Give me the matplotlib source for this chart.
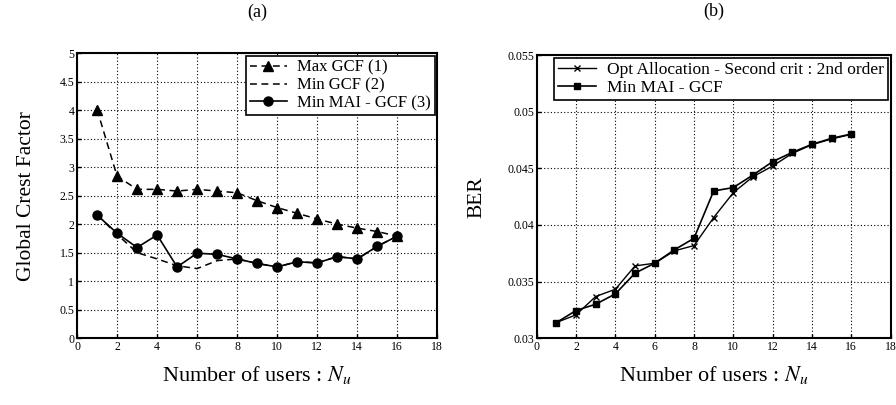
import numpy as np
import matplotlib.pyplot as plt

plt.rcParams['font.family'] = ['Liberation Serif', 'DejaVu Serif']
plt.rcParams['mathtext.fontset'] = 'stix'

nu = list(range(1, 17))

max_gcf = [4.01, 2.84, 2.61, 2.61, 2.58, 2.61, 2.58, 2.55, 2.41, 2.29, 2.19, 2.09, 2.00, 1.93, 1.87, 1.79]
min_gcf = [2.16, 1.82, 1.50, 1.39, 1.27, 1.22, 1.36, 1.39, 1.31, 1.25, 1.34, 1.32, 1.43, 1.39, 1.61, 1.79]
min_mai = [2.16, 1.84, 1.59, 1.81, 1.25, 1.49, 1.47, 1.39, 1.31, 1.25, 1.34, 1.32, 1.43, 1.39, 1.61, 1.79]

ber_opt = [0.03138, 0.03206, 0.03368, 0.03432, 0.03638, 0.03662, 0.03771, 0.03818,
           0.04065, 0.04285, 0.04426, 0.04520, 0.04632, 0.04709, 0.04759, 0.04800]
ber_mai = [0.03138, 0.03244, 0.03300, 0.03391, 0.03574, 0.03662, 0.03780, 0.03882,
           0.04300, 0.04330, 0.04441, 0.04559, 0.04641, 0.04712, 0.04765, 0.04803]

fig = plt.figure(figsize=(8.96, 4.05), dpi=100)
ax1 = fig.add_axes([0.086, 0.165, 0.402, 0.704])
ax2 = fig.add_axes([0.599, 0.165, 0.395, 0.699])

for ax in (ax1, ax2):
    ax.set_xlim(0, 18)
    ax.set_xticks(range(0, 19, 2))
    ax.grid(True, color='k', linestyle=(0, (1, 2)), linewidth=0.8)
    ax.tick_params(direction='in', labelsize=8.5, length=3, width=1, pad=2)
    for s in ax.spines.values():
        s.set_linewidth(1.5)
    ax.set_xlabel('Number of users : $N_u$', fontsize=16, labelpad=8)

dash = (0, (4.5, 3))

# (a)
ax1.plot(nu, max_gcf, color='k', linestyle=dash, marker='^', markersize=6.5,
         linewidth=1.1, label='Max GCF (1)')
ax1.plot(nu, min_gcf, color='k', linestyle=dash, linewidth=1.1, label='Min GCF (2)')
ax1.plot(nu, min_mai, 'k-', marker='o', markersize=6.5, linewidth=1.2, label='Min MAI - GCF (3)')
ax1.set_ylim(0, 5)
ax1.set_yticks(np.arange(0, 5.01, 0.5))
ax1.set_yticklabels(['0', '0.5', '1', '1.5', '2', '2.5', '3', '3.5', '4', '4.5', '5'])
ax1.set_ylabel('Global Crest Factor', fontsize=15.5, labelpad=17)
ax1.set_title('(a)', fontsize=13, pad=26)
leg1 = ax1.legend(loc='upper right', fontsize=12, fancybox=False, framealpha=1,
                  edgecolor='k', borderaxespad=0.15, handlelength=2.2,
                  borderpad=0.25, labelspacing=0.1, handletextpad=0.6)
leg1.get_frame().set_linewidth(1.2)

# (b)
ax2.plot(nu, ber_opt, 'k-', marker='x', markersize=4.5, linewidth=1,
         label='Opt Allocation - Second crit : 2nd order')
ax2.plot(nu, ber_mai, 'k-', marker='s', markersize=5, linewidth=1.2, label='Min MAI - GCF')
ax2.set_ylim(0.03, 0.055)
ax2.set_yticks([0.03, 0.035, 0.04, 0.045, 0.05, 0.055])
ax2.set_yticklabels(['0.03', '0.035', '0.04', '0.045', '0.05', '0.055'])
ax2.set_ylabel('BER', fontsize=15.5, labelpad=15)
ax2.set_title('(b)', fontsize=13, pad=28)
leg2 = ax2.legend(loc='upper right', fontsize=12.5, fancybox=False, framealpha=1,
                  edgecolor='k', borderaxespad=0.15, handlelength=2.2,
                  borderpad=0.25, labelspacing=0.1, handletextpad=0.6)
leg2.get_frame().set_linewidth(1.2)

fig.savefig('out.png', dpi=100)
